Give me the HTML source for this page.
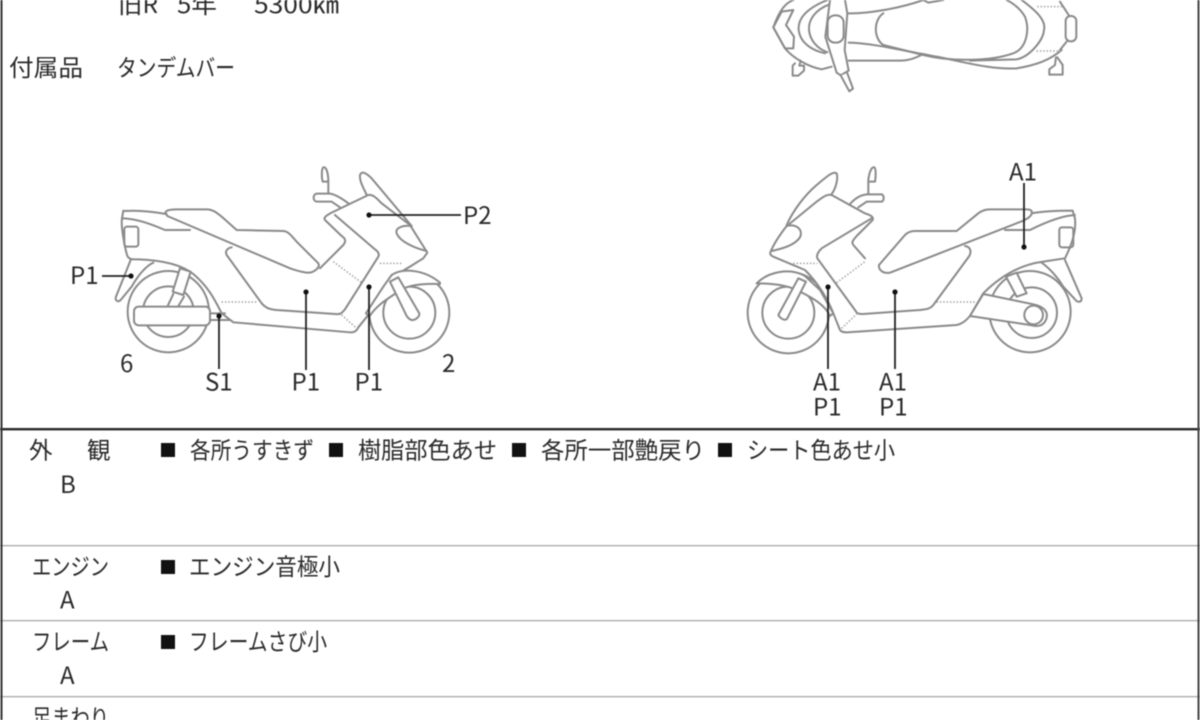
<!DOCTYPE html>
<html lang="ja"><head><meta charset="utf-8"><style>
html,body{margin:0;padding:0;background:#fff}
svg{display:block}
text{font-family:"Noto Sans CJK JP","Liberation Sans",sans-serif;fill:#2a2a2a;font-size:24px;font-weight:400}
.j{font-size:23.5px}
.b path,.b circle,.b rect{fill:none;stroke:#8a8a8a;stroke-width:6;stroke-linejoin:round;stroke-linecap:round}
.b .w{fill:#fff}
.b .d{stroke-dasharray:4 6;stroke:#999;stroke-width:4.5;stroke-linecap:butt}
.k line{stroke:#222;stroke-width:1.8}
.k circle{fill:#111}
</style></head><body>
<svg width="1200" height="720" viewBox="0 0 1200 720" xmlns="http://www.w3.org/2000/svg" style="filter:blur(.45px)">
<rect width="1200" height="720" fill="#fff"/>

<!-- top view -->
<g class="b" transform="translate(750,0) scale(.3333)">
<path d="M130 0C110 8 90 25 70 82L105 145C130 175 175 200 215 208L245 200"/>
<path d="M70 82L95 35L130 30L108 75L132 110L130 145H105Z"/>
<path d="M232 0C170 25 143 55 146 90C150 125 180 150 225 160"/>
<path d="M236 14C195 30 175 60 177 90C180 120 200 145 232 157"/>
<path d="M135 190L128 197V227H145L162 212V197H148L152 182"/>
<path d="M296 40C350 42 450 25 520 0"/>
<path d="M296 128C370 130 450 150 560 170C650 188 730 210 800 205C860 195 900 180 935 150"/>
<path d="M296 182H450C480 182 500 172 520 162"/>
<path d="M400 40C370 60 370 115 400 135L520 165C600 185 720 185 790 160C830 145 840 90 825 50C810 25 790 10 770 0"/>
<path d="M520 0L535 8L580 0"/>
<path d="M815 0C855 30 890 60 882 90C880 120 840 170 800 178L660 182"/>
<path d="M930 5L958 48"/><path d="M930 150L950 125"/>
<rect x="947" y="48" width="32" height="76" rx="15"/>
<path class="d" d="M862 20H935"/><path class="d" d="M860 153H935"/>
<path d="M918 172L915 195L898 208V224H938V195L922 172"/>
<path class="w" d="M240 0L226 110L260 218L272 226L296 212L284 150L292 40L285 0"/>
<rect class="w" x="233" y="46" width="48" height="82" rx="22"/>
<path class="w" d="M272 226L298 274L309 266L292 220"/>
</g>

<!-- left bike -->
<g class="b" transform="translate(90,150) scale(.3333)">
<circle cx="235" cy="485" r="122"/><circle cx="235" cy="485" r="76"/>
<circle cx="958" cy="488" r="120"/><circle cx="958" cy="488" r="78"/>
<path class="w" d="M122 330L78 440C74 452 84 458 92 450L125 410C145 375 165 350 190 338"/>
<path class="w" d="M96 205C92 230 105 295 112 318C118 330 128 328 145 328C200 330 270 340 310 372C355 410 375 450 395 490L430 517L780 547C795 548 800 542 805 532L835 495C855 445 895 385 960 350L1000 325L1012 308L960 225L845 135L720 180L700 100L300 100L100 182Z" style="stroke:none"/>
<path d="M96 205C92 230 105 295 112 318C118 330 128 328 145 328C200 330 270 340 310 372C355 410 375 450 395 490L430 517L780 547C795 548 800 542 805 532L835 495C855 445 895 385 960 350L1000 325L1012 308L960 225"/>
<path d="M104 183C150 180 190 185 228 192M100 182L96 205"/>
<path d="M96 205C140 205 190 225 225 240H300"/>
<rect x="103" y="230" width="42" height="60" rx="8"/>
<path class="w" d="M228 190C222 182 240 178 260 178H350C368 178 380 188 395 200L440 240L580 243C595 244 605 258 620 275L685 340C692 352 672 368 655 368C640 368 620 362 600 355L232 198Z"/>
<path d="M425 292C410 295 405 305 410 315L515 460C528 475 540 478 560 480L735 492C752 494 755 490 765 478L865 320C870 310 862 303 855 298L735 195"/>
<path d="M690 355L760 285C770 272 765 265 755 258L705 210C700 203 708 197 725 188L835 135C850 133 860 145 875 160L960 225"/>
<path d="M775 160C755 145 735 133 720 131H680C668 133 668 153 680 155H725L750 172"/>
<path d="M715 130V90C714 65 708 50 700 52C695 55 694 80 698 95H712"/>
<path d="M830 135C822 115 808 95 810 75C815 62 828 68 845 85L965 228"/>
<path d="M965 228C935 225 915 235 920 250C930 275 975 295 1010 303"/>
<path d="M362 490H405M362 510H420"/>
<path class="w" d="M248 425L270 355L302 365L280 435Z"/>
<path d="M250 432L232 470M282 440L264 470"/>
<rect x="132" y="470" width="228" height="56" rx="14" class="w"/>
<path class="d" d="M395 456H505"/><path class="d" d="M730 335L815 398"/><path class="d" d="M870 340H940"/><path class="d" d="M755 495L800 535"/>
<path class="w" d="M905 375C940 352 1005 360 1050 398L1050 402C1000 400 950 405 925 425C895 445 860 465 838 500L828 490L880 410Z"/>
<path class="w" d="M900 395L925 382L988 490C990 500 975 512 965 510C958 508 955 505 950 498Z"/>
</g>
<g class="k">
<line x1="369" y1="215" x2="461" y2="215"/><circle cx="369" cy="215" r="2.6"/>
<line x1="102" y1="276" x2="131" y2="276"/><circle cx="131" cy="276" r="2.6"/>
<line x1="219" y1="316" x2="219" y2="369"/><circle cx="219" cy="316" r="2.6"/>
<line x1="306" y1="292" x2="306" y2="370"/><circle cx="306" cy="292" r="2.6"/>
<line x1="369" y1="287" x2="369" y2="370"/><circle cx="369" cy="287" r="2.6"/>
</g>

<!-- right bike -->
<g class="b" transform="translate(730,150) scale(.3333)">
<circle cx="175" cy="488" r="122"/><circle cx="175" cy="488" r="78"/>
<circle cx="900" cy="485" r="122"/><circle cx="905" cy="488" r="76"/>
<path class="w" d="M1005 330L1055 445C1055 458 1042 458 1035 448L1000 410C985 385 960 355 935 338"/>
<path class="w" d="M122 305L130 320L225 360C265 400 295 450 310 490L330 540C334 546 340 547 350 547L680 525C695 522 705 515 720 498L760 430C800 390 860 345 940 335L1005 325C1015 305 1035 250 1035 205L1020 180L905 190L780 178L545 243L428 210L305 135L180 220Z" style="stroke:none"/>
<path d="M170 228C145 260 130 285 122 305C118 312 122 316 130 320L225 360C265 400 295 450 310 490L330 540C334 546 340 547 350 547L680 525C695 522 705 515 720 498L760 430C800 390 860 345 940 335L1005 325C1020 295 1040 250 1035 205L1028 182C970 182 935 185 905 190"/>
<path d="M305 132C318 115 325 85 320 70C310 62 290 80 260 105C225 135 190 180 170 225"/>
<path d="M170 228C200 220 220 240 210 262C195 285 160 295 125 303"/>
<path d="M1035 195C1000 197 950 215 900 240H825"/>
<rect x="988" y="232" width="42" height="60" rx="8"/>
<path class="w" d="M905 185C908 195 895 205 880 212L480 368C460 372 445 360 447 345L525 255C535 245 545 243 555 243H680L745 190C755 182 765 178 780 178H890C900 178 905 180 905 185Z"/>
<path d="M705 288C722 290 725 305 718 318L610 465C600 477 590 478 570 480L400 492C385 493 380 490 375 480L262 325C258 315 265 305 275 295L425 205"/>
<path d="M405 325L370 285C363 277 370 270 380 258L428 210C432 200 420 195 405 190L305 135C290 132 280 140 260 155L178 222"/>
<path d="M360 162C375 145 395 133 415 133H455C463 136 463 152 455 155H410L385 172"/>
<path d="M415 130V90C418 65 425 50 433 52C438 55 438 80 435 95H420"/>
<path class="d" d="M190 340H262"/><path class="d" d="M320 398L405 335"/><path class="d" d="M620 456H738"/><path class="d" d="M335 535L380 492"/>
<path class="w" d="M828 380L860 368L890 430L860 440Z"/>
<path class="w" d="M760 432L910 463C945 470 960 490 945 515C935 530 920 530 900 525L720 498Z"/>
<circle cx="911" cy="495" r="28"/>
<path class="w" d="M225 378C180 352 115 365 80 400C130 400 175 405 210 425C250 445 285 465 300 498L310 490L270 420Z"/>
<path class="w" d="M145 495L205 385L228 395L172 505C165 515 150 505 145 495Z"/>
</g>
<g class="k">
<line x1="1024" y1="183" x2="1024" y2="247"/><circle cx="1024" cy="247" r="2.6"/>
<line x1="828" y1="287" x2="828" y2="369"/><circle cx="828" cy="287" r="2.6"/>
<line x1="895" y1="292" x2="895" y2="369"/><circle cx="895" cy="292" r="2.6"/>
</g>

<!-- diagram labels -->
<text x="463" y="224">P2</text>
<text x="70" y="284">P1</text>
<text x="120" y="372">6</text>
<text x="442" y="372">2</text>
<text x="205" y="390.5">S1</text>
<text x="291.5" y="390.5">P1</text>
<text x="354.5" y="390.5">P1</text>
<text x="1009" y="180.5">A1</text>
<text x="813" y="390.5">A1</text><text x="813" y="415.5">P1</text>
<text x="879" y="390.5">A1</text><text x="879" y="415.5">P1</text>

<!-- upper text -->
<text class="j" x="118" y="13" textLength="40" lengthAdjust="spacingAndGlyphs">旧R</text>
<text class="j" x="177" y="13" textLength="40" lengthAdjust="spacingAndGlyphs">5年</text>
<text class="j" x="254" y="13" textLength="85" lengthAdjust="spacingAndGlyphs">5300㎞</text>
<text class="j" x="9" y="76" textLength="74" lengthAdjust="spacingAndGlyphs">付属品</text>
<text class="j" x="117" y="76" textLength="118" lengthAdjust="spacingAndGlyphs">タンデムバー</text>

<!-- table -->
<rect x="0" y="428" width="1200" height="2.4" fill="#2a2a2a"/>
<rect x="0" y="545" width="1200" height="1.3" fill="#a8a8a8"/>
<rect x="0" y="620" width="1200" height="1.3" fill="#a8a8a8"/>
<rect x="0" y="696" width="1200" height="1.3" fill="#a8a8a8"/>
<rect x="0.5" y="0" width="2" height="720" fill="#333"/>
<rect x="1197.5" y="0" width="2" height="720" fill="#444"/>

<text class="j" x="29" y="458.5">外</text><text class="j" x="87" y="458.5">観</text>
<text x="60" y="493">B</text>
<rect x="161" y="443" width="14" height="14" fill="#111"/>
<text class="j" x="190" y="458.5" textLength="124" lengthAdjust="spacingAndGlyphs">各所うすきず</text>
<rect x="329" y="443" width="14" height="14" fill="#111"/>
<text class="j" x="358" y="458.5" textLength="139" lengthAdjust="spacingAndGlyphs">樹脂部色あせ</text>
<rect x="512" y="443" width="14" height="14" fill="#111"/>
<text class="j" x="541" y="458.5" textLength="164" lengthAdjust="spacingAndGlyphs">各所一部艶戻り</text>
<rect x="718" y="443" width="14" height="14" fill="#111"/>
<text class="j" x="747" y="458.5" textLength="148" lengthAdjust="spacingAndGlyphs">シート色あせ小</text>

<text class="j" x="32" y="575" textLength="77" lengthAdjust="spacingAndGlyphs">エンジン</text>
<text x="60" y="608.5">A</text>
<rect x="161" y="560" width="14" height="14" fill="#111"/>
<text class="j" x="189" y="575" textLength="151" lengthAdjust="spacingAndGlyphs">エンジン音極小</text>

<text class="j" x="32" y="650" textLength="77" lengthAdjust="spacingAndGlyphs">フレーム</text>
<text x="60" y="684">A</text>
<rect x="161" y="635" width="14" height="14" fill="#111"/>
<text class="j" x="189" y="650" textLength="138" lengthAdjust="spacingAndGlyphs">フレームさび小</text>

<text class="j" x="32" y="726" textLength="77" lengthAdjust="spacingAndGlyphs">足まわり</text>
</svg>
</body></html>
